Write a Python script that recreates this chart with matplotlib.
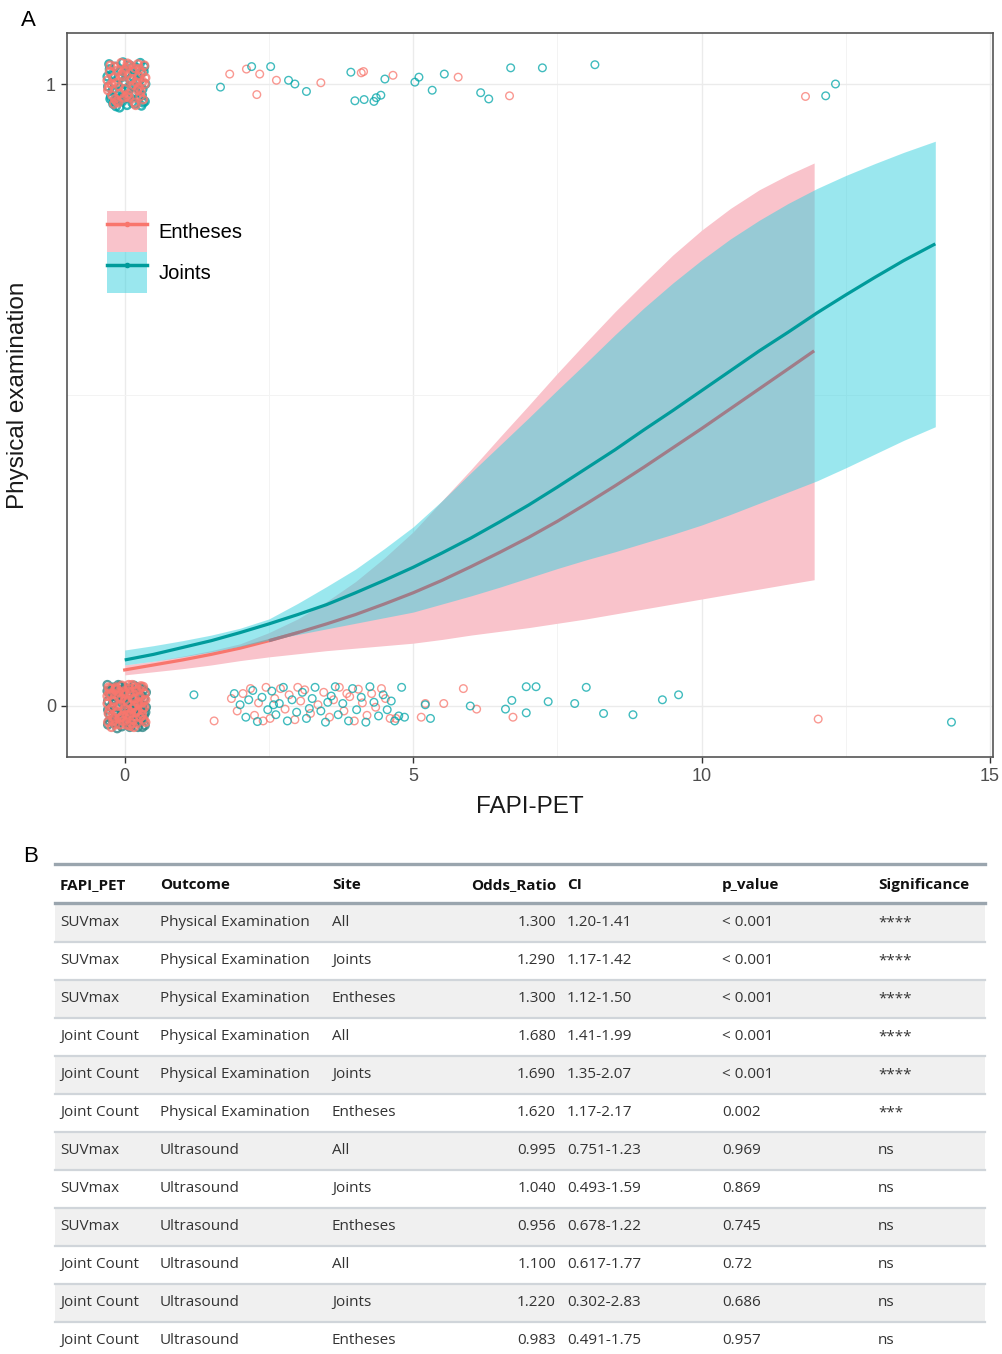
import matplotlib
matplotlib.use('Agg')
import matplotlib.pyplot as plt
from matplotlib.patches import Patch, Rectangle
from matplotlib.lines import Line2D

plt.rcParams['font.family'] = ['Liberation Sans', 'DejaVu Sans']

#%% Data
# fitted logistic curves and confidence bands
ent_fx = [0, 0.5, 1, 1.5, 2, 2.5, 3, 3.5, 4, 4.5, 5, 5.5, 6, 6.5, 7, 7.5, 8, 8.5, 9, 9.5,
          10, 10.5, 11, 11.5, 11.95]
ent_fit = [0.058, 0.066, 0.074, 0.083, 0.093, 0.105, 0.118, 0.132, 0.147, 0.164, 0.182, 0.202, 0.224,
           0.247, 0.271, 0.297, 0.325, 0.354, 0.384, 0.415, 0.446, 0.478, 0.510, 0.542, 0.571]
ent_lo = [0.050, 0.055, 0.060, 0.066, 0.073, 0.079, 0.084, 0.089, 0.093, 0.097, 0.101, 0.107, 0.114,
          0.120, 0.126, 0.133, 0.140, 0.148, 0.156, 0.164, 0.172, 0.180, 0.188, 0.196, 0.203]
ent_hi = [0.066, 0.072, 0.080, 0.089, 0.100, 0.118, 0.140, 0.168, 0.200, 0.238, 0.280, 0.330, 0.380,
          0.432, 0.483, 0.535, 0.585, 0.634, 0.680, 0.725, 0.765, 0.800, 0.830, 0.854, 0.873]

jnt_fx = [0, 0.5, 1, 1.5, 2, 2.5, 3, 3.5, 4, 4.5, 5, 5.5, 6, 6.5, 7, 7.5, 8, 8.5, 9, 9.5,
          10, 10.5, 11, 11.5, 12, 12.5, 13, 13.5, 14.05]
jnt_fit = [0.074, 0.083, 0.094, 0.105, 0.118, 0.132, 0.147, 0.163, 0.182, 0.202, 0.223, 0.246, 0.270,
           0.296, 0.323, 0.352, 0.382, 0.412, 0.444, 0.475, 0.507, 0.539, 0.571, 0.601, 0.632, 0.661,
           0.689, 0.716, 0.743]
jnt_lo = [0.066, 0.072, 0.079, 0.087, 0.096, 0.106, 0.115, 0.124, 0.133, 0.142, 0.151, 0.164, 0.177,
          0.191, 0.206, 0.221, 0.235, 0.248, 0.262, 0.276, 0.291, 0.308, 0.326, 0.344, 0.362, 0.383,
          0.405, 0.427, 0.449]
jnt_hi = [0.090, 0.097, 0.105, 0.114, 0.125, 0.140, 0.165, 0.192, 0.220, 0.253, 0.288, 0.330, 0.375,
          0.419, 0.463, 0.508, 0.552, 0.597, 0.640, 0.680, 0.717, 0.751, 0.781, 0.808, 0.832, 0.853,
          0.872, 0.890, 0.908]

# jittered observations, entheses (outcome = 1); first 50 belong to the FAPI-PET = 0 cluster
ent1_x = [-0.25, -0.12, 0.05, 0.18, 0.30, -0.20, -0.05, 0.10, 0.25, 0.35, -0.28, -0.15, 0.00, 0.15, 0.28,
          -0.22, -0.08, 0.08, 0.22, 0.32, -0.18, -0.02, 0.12, 0.27, -0.26, -0.10, 0.03, 0.20, 0.34, -0.14,
          0.06, 0.17, -0.04, 0.24, -0.30,
          -0.29, -0.17, -0.06, 0.04, 0.14, 0.26, 0.36, -0.23, -0.11, 0.09, 0.19, 0.31, -0.01, -0.19, 0.23,
          1.82, 2.11, 2.34, 2.29, 2.63, 3.40, 4.10, 4.14, 4.65, 5.78, 6.67, 11.80]
ent1_y = [1.030, 1.022, 1.033, 1.025, 1.018, 1.010, 1.015, 1.005, 1.012, 1.000, 0.995, 1.002, 0.992, 0.998, 0.988,
          0.982, 0.985, 0.978, 0.990, 0.975, 1.028, 1.020, 1.008, 0.980, 1.020, 0.996, 1.026, 1.003, 1.030, 0.972,
          0.984, 0.970, 1.012, 0.994, 1.006,
          0.990, 0.976, 1.034, 0.980, 1.020, 1.024, 1.010, 1.000, 0.970, 1.030, 0.966, 1.004, 0.978, 0.968, 1.032,
          1.016, 1.024, 1.016, 0.983, 1.006, 1.002, 1.018, 1.020, 1.014, 1.011, 0.981, 0.980]
# entheses (outcome = 0); first 75 belong to the 0 cluster
ent0_x = [-0.28, -0.17, -0.05, 0.08, 0.20, 0.32, -0.24, -0.11, 0.02, 0.14, 0.26, 0.36, -0.30, -0.19, -0.07,
          0.05, 0.17, 0.29, -0.26, -0.13, 0.00, 0.11, 0.23, 0.34, -0.21, -0.09, 0.04, 0.15, 0.27, -0.29,
          -0.16, -0.03, 0.09, 0.21, 0.33, -0.23, -0.10, 0.06, 0.18, 0.30, -0.14, 0.01, 0.12, 0.25, -0.06,
          -0.27, -0.15, -0.01, 0.13, 0.24, 0.35, -0.22, -0.06, 0.09, 0.19, 0.31, -0.30, -0.18, -0.04, 0.10,
          0.22, 0.36, -0.25, -0.12, 0.03, 0.16, 0.28, -0.20, -0.08, 0.07, 0.20, 0.32, -0.28, -0.02, 0.14,
          1.85, 1.95, 2.05, 2.18, 2.25, 2.32, 2.45, 2.52, 2.60, 2.70, 2.78, 2.85, 2.95, 3.05, 3.12, 3.22,
          3.35, 3.45, 3.55, 3.62, 3.72, 3.80, 3.90, 3.98, 4.05, 4.12, 4.20, 4.28, 4.35, 4.45, 4.52, 4.60,
          4.70, 2.40, 3.00, 3.85,
          1.55, 5.14, 5.21, 5.53, 5.87, 6.10, 6.73, 12.02]
ent0_y = [0.030, 0.026, 0.033, 0.028, 0.024, 0.031, 0.018, 0.014, 0.020, 0.012, 0.016, 0.010, 0.004, 0.008, 0.002,
          0.006, 0.000, 0.005, -0.006, -0.010, -0.004, -0.012, -0.008, -0.002, -0.016, -0.020, -0.014, -0.022, -0.018, -0.026,
          -0.030, -0.024, -0.032, -0.028, -0.022, -0.034, 0.022, -0.008, 0.012, -0.014, 0.028, 0.010, -0.028, 0.026, -0.018,
          0.020, 0.030, 0.024, 0.034, 0.004, 0.020, -0.002, 0.012, -0.016, 0.030, -0.006, 0.016, -0.020, -0.016, 0.020,
          0.006, -0.026, 0.028, 0.000, -0.030, -0.034, 0.032, -0.024, -0.030, 0.034, -0.010, 0.008, -0.012, 0.018, -0.004,
          0.012, -0.008, 0.020, 0.028, -0.015, 0.005, 0.030, -0.020, 0.012, 0.028, -0.005, 0.018, -0.022, 0.008, 0.026, -0.012,
          0.002, 0.022, -0.018, 0.010, 0.030, -0.008, 0.015, -0.024, 0.027, 0.005, -0.015, 0.020, -0.002, 0.028, 0.012, -0.020,
          -0.020, -0.024, 0.030, 0.020,
          -0.024, -0.018, 0.004, 0.004, 0.028, -0.005, -0.018, -0.021]

# joints (outcome = 1); first 55 belong to the 0 cluster
jnt1_x = [-0.27, -0.16, -0.03, 0.09, 0.21, 0.33, -0.23, -0.10, 0.02, 0.14, 0.26, 0.36, -0.29, -0.18, -0.06,
          0.07, 0.19, 0.31, -0.24, -0.12, 0.01, 0.13, 0.24, 0.35, -0.20, -0.08, 0.04, 0.16, 0.29, -0.26,
          -0.14, 0.11, 0.22, -0.02, 0.30, -0.19, 0.06, 0.18, -0.09, 0.27,
          -0.30, -0.21, -0.07, 0.05, 0.15, 0.25, 0.34, -0.15, 0.00, 0.20, 0.32, -0.25, -0.04, 0.12, 0.28,
          1.66, 2.20, 2.53, 2.84, 2.95, 3.15, 3.92, 3.99, 4.15, 4.32, 4.36, 4.44, 4.51, 5.03, 5.10, 5.33,
          5.54, 6.17, 6.31, 6.69, 7.24, 8.15, 12.15, 12.32]
jnt1_y = [1.032, 1.028, 1.035, 1.030, 1.026, 1.020, 1.015, 1.010, 1.018, 1.012, 1.006, 1.000, 0.996, 1.002, 0.990,
          0.994, 0.986, 0.992, 0.980, 0.975, 0.982, 0.970, 0.978, 0.972, 0.968, 0.976, 0.966, 0.984, 0.965, 1.024,
          0.988, 0.998, 1.014, 1.004, 0.982, 0.972, 0.978, 0.968, 0.962, 1.034,
          1.012, 0.990, 1.022, 1.016, 0.996, 0.990, 1.028, 0.964, 1.000, 1.004, 0.970, 0.976, 0.972, 1.026, 1.018,
          0.995, 1.028, 1.028, 1.006, 1.000, 0.988, 1.019, 0.973, 0.975, 0.972, 0.978, 0.982, 1.008, 1.003, 1.011, 0.990,
          1.016, 0.986, 0.976, 1.026, 1.026, 1.031, 0.981, 1.000]
# joints (outcome = 0); first 80 belong to the 0 cluster
jnt0_x = [-0.30, -0.20, -0.08, 0.04, 0.16, 0.28, 0.37, -0.26, -0.14, -0.02, 0.10, 0.22, 0.34, -0.29, -0.18,
          -0.06, 0.07, 0.19, 0.31, -0.24, -0.12, 0.00, 0.13, 0.25, 0.36, -0.27, -0.15, -0.04, 0.08, 0.20,
          0.32, -0.22, -0.10, 0.03, 0.15, 0.27, -0.29, -0.17, -0.05, 0.11, 0.23, 0.35, -0.19, -0.07, 0.06,
          0.18, 0.30, -0.13, 0.01, 0.24,
          -0.24, -0.11, 0.02, 0.12, 0.26, 0.34, -0.29, -0.16, -0.03, 0.09, 0.21, 0.33, -0.21, -0.09, 0.05,
          0.17, 0.29, -0.27, -0.14, 0.00, 0.14, 0.27, -0.18, -0.04, 0.10, 0.22, 0.37, -0.30, 0.06, 0.31,
          1.90, 2.00, 2.10, 2.15, 2.22, 2.30, 2.38, 2.48, 2.55, 2.62, 2.68, 2.75, 2.82, 2.90, 2.98, 3.08,
          3.15, 3.25, 3.30, 3.40, 3.48, 3.58, 3.65, 3.70, 3.78, 3.88, 3.95, 4.02, 4.10, 4.18, 4.25, 4.32,
          4.40, 4.48, 4.55, 4.62, 4.68, 4.75, 4.80, 4.85, 3.20, 3.52, 2.58,
          1.20, 5.30, 5.21, 5.99, 6.60, 6.71, 6.96, 7.13, 6.96, 7.34, 7.80, 8.00, 8.30, 8.81, 9.32, 9.60, 14.33]
jnt0_y = [0.034, 0.030, 0.032, 0.027, 0.033, 0.029, 0.022, 0.020, 0.024, 0.017, 0.021, 0.015, 0.012, 0.008, 0.011,
          0.006, 0.009, 0.003, 0.001, -0.002, 0.000, -0.005, -0.003, -0.008, -0.010, -0.012, -0.014, -0.010, -0.016, -0.013,
          -0.018, -0.022, -0.020, -0.024, -0.021, -0.026, -0.030, -0.028, -0.033, -0.030, -0.034, -0.031, 0.016, 0.026, -0.018,
          0.014, -0.006, -0.036, 0.004, 0.025,
          0.026, 0.034, -0.012, 0.006, 0.020, -0.014, -0.006, -0.020, 0.010, -0.034, -0.002, 0.026, 0.004, -0.026, 0.020,
          -0.026, 0.016, -0.024, 0.022, 0.030, -0.010, -0.016, -0.008, 0.014, 0.028, 0.030, -0.002, 0.024, -0.028, -0.034,
          0.020, 0.002, -0.018, 0.010, 0.025, -0.025, 0.014, -0.006, 0.024, -0.014, 0.004, 0.030, -0.024, 0.010, -0.010, 0.022,
          -0.020, 0.012, 0.030, -0.008, -0.026, 0.016, 0.031, -0.014, 0.004, -0.024, 0.028, -0.006, 0.014, -0.026, 0.031, 0.006,
          -0.016, 0.018, -0.006, 0.008, -0.024, -0.016, 0.030, -0.018, -0.004, 0.006, 0.002,
          0.018, -0.020, 0.002, 0.000, -0.005, 0.009, 0.031, 0.031, -0.011, 0.007, 0.004, 0.030, -0.012, -0.014, 0.010, 0.018, -0.026]

# table (panel B)
col_names = ['FAPI_PET', 'Outcome', 'Site', 'Odds_Ratio', 'CI', 'p_value', 'Significance']
fapi_pet = ['SUVmax', 'SUVmax', 'SUVmax', 'Joint Count', 'Joint Count', 'Joint Count',
            'SUVmax', 'SUVmax', 'SUVmax', 'Joint Count', 'Joint Count', 'Joint Count']
outcome = ['Physical Examination'] * 6 + ['Ultrasound'] * 6
site = ['All', 'Joints', 'Entheses'] * 4
odds_ratio = ['1.300', '1.290', '1.300', '1.680', '1.690', '1.620',
              '0.995', '1.040', '0.956', '1.100', '1.220', '0.983']
ci = ['1.20-1.41', '1.17-1.42', '1.12-1.50', '1.41-1.99', '1.35-2.07', '1.17-2.17',
      '0.751-1.23', '0.493-1.59', '0.678-1.22', '0.617-1.77', '0.302-2.83', '0.491-1.75']
p_value = ['< 0.001', '< 0.001', '< 0.001', '< 0.001', '< 0.001', '0.002',
           '0.969', '0.869', '0.745', '0.72', '0.686', '0.957']
signif = ['****', '****', '****', '****', '****', '***', 'ns', 'ns', 'ns', 'ns', 'ns', 'ns']

#%% Colours
red = '#F8766D'
mauve = '#A07C88'   # entheses line where it sits under the joints band
teal_pt = '#00A5A8'
pink_band = '#F9C3CB'
cyan_band = '#37D1DF'
teal_line = '#009B9B'

#%% Panel A
fig = plt.figure(figsize=(10.03, 13.54), dpi=100)
W, H = 1003, 1354
ax = fig.add_axes([67 / W, 1 - 757 / H, 926 / W, 724 / H])

ax.fill_between(ent_fx, ent_lo, ent_hi, color=pink_band, lw=0, zorder=2)
ax.plot(ent_fx[:7], ent_fit[:7], color=red, lw=2.3, zorder=3)
ax.fill_between(jnt_fx, jnt_lo, jnt_hi, color=cyan_band, alpha=0.5, lw=0, zorder=4)
ax.plot(ent_fx[5:], ent_fit[5:], color=mauve, lw=2.3, zorder=4.5, solid_capstyle='butt')
ax.plot(jnt_fx, jnt_fit, color=teal_line, lw=2.3, zorder=5, solid_capstyle='butt')

# points: the crowded FAPI-PET = 0 clusters and the spread-out points
pt = dict(s=30, facecolors='none', linewidths=1.0, alpha=0.75, zorder=6)
ptc = dict(s=30, facecolors='none', linewidths=1.7, alpha=0.8, zorder=6)
ax.scatter(ent1_x[50:], ent1_y[50:], edgecolors=red, **pt)
ax.scatter(ent0_x[75:], ent0_y[75:], edgecolors=red, **pt)
ax.scatter(jnt1_x[55:], jnt1_y[55:], edgecolors=teal_pt, **pt)
ax.scatter(jnt0_x[80:], jnt0_y[80:], edgecolors=teal_pt, **pt)
ax.scatter(jnt1_x[:55], jnt1_y[:55], edgecolors=teal_pt, **ptc)
ax.scatter(ent1_x[:50], ent1_y[:50], edgecolors=red, **ptc)
ax.scatter(jnt0_x[:80], jnt0_y[:80], edgecolors='#2E8787', **ptc)
ax.scatter(ent0_x[:75], ent0_y[:75], edgecolors=red, **ptc)

ax.set_xlim(-1.0, 15.05)
ax.set_ylim(-0.082, 1.082)
ax.set_xticks([0, 5, 10, 15])
ax.set_xticks([2.5, 7.5, 12.5], minor=True)
ax.set_yticks([0, 1])
ax.set_yticks([0.5], minor=True)
ax.grid(which='major', color='#EBEBEB', lw=1.0, zorder=0)
ax.grid(which='minor', color='#F3F3F3', lw=0.7, zorder=0)
ax.set_axisbelow(True)
ax.tick_params(which='major', length=4, width=1, color='#333333', labelcolor='#4D4D4D',
               labelsize=13, pad=4)
ax.tick_params(which='minor', length=0)
for s in ax.spines.values():
    s.set_color('#555555')
    s.set_linewidth(1.2)

ax.set_xlabel('FAPI-PET', fontsize=17.5, color='#1A1A1A', labelpad=8)
ax.set_ylabel('Physical examination', fontsize=17.5, color='#1A1A1A', labelpad=12)

fs = 14.5
fs_px = fs * 100 / 72
handles = [(Patch(facecolor=pink_band, edgecolor='none'), Line2D([], [], color=red, lw=2.5, marker='o', ms=3)),
           (Patch(facecolor=cyan_band, alpha=0.5, edgecolor='none'), Line2D([], [], color=teal_line, lw=2.5, marker='o', ms=3))]
ax.legend(handles, ['Entheses', 'Joints'], loc='upper left', bbox_to_anchor=(0.043, 0.754),
          fontsize=fs, handlelength=40 / fs_px, handleheight=2.76, labelspacing=0,
          handletextpad=12 / fs_px, borderpad=0, borderaxespad=0, frameon=False)

fig.text(28 / W, 1 - 20 / H, 'A', fontsize=16, ha='center', va='center')

#%% Panel B table
tab = fig.add_axes([0, 0, 1, 509 / H])
tab.set_xlim(0, W)
tab.set_ylim(H, 845)
tab.axis('off')

tab.text(31, 857, 'B', fontsize=16, ha='center', va='center', family=['Liberation Sans'])

x0, x1 = 55, 985
col_x = [60, 160, 332, 556, 567, 722, 878]
col_ha = ['left', 'left', 'left', 'right', 'left', 'left', 'left']
tfont = ['Open Sans', 'DejaVu Sans']
row_h = 38.0
head_y = 885
row_y = [923 + i * row_h for i in range(len(fapi_pet))]

for i, c in enumerate(row_y):
    if i % 2 == 0:
        tab.add_patch(Rectangle((x0, c - row_h / 2), x1 - x0, row_h, color='#F0F0F0', lw=0, zorder=1))
    tab.plot([x0, x1], [c + row_h / 2] * 2, color='#D0D5DA', lw=1.6, zorder=2)

tab.plot([x0, x1], [864, 864], color='#9AA5AE', lw=2.4, zorder=3)
tab.plot([x0, x1], [903.5, 903.5], color='#9AA5AE', lw=2.4, zorder=3)

for name, x, ha in zip(col_names, col_x, col_ha):
    tab.text(x, head_y, name, fontsize=11, fontweight='bold', ha=ha, va='center',
             family=tfont, color='#111111')

columns = [fapi_pet, outcome, site, odds_ratio, ci, p_value, signif]
for vals, x, ha in zip(columns, col_x, col_ha):
    for v, y in zip(vals, row_y):
        tab.text(x, y, v, fontsize=11, ha=ha, va='center', family=tfont, color='#333333', zorder=4)

fig.savefig('out.png', dpi=100)
